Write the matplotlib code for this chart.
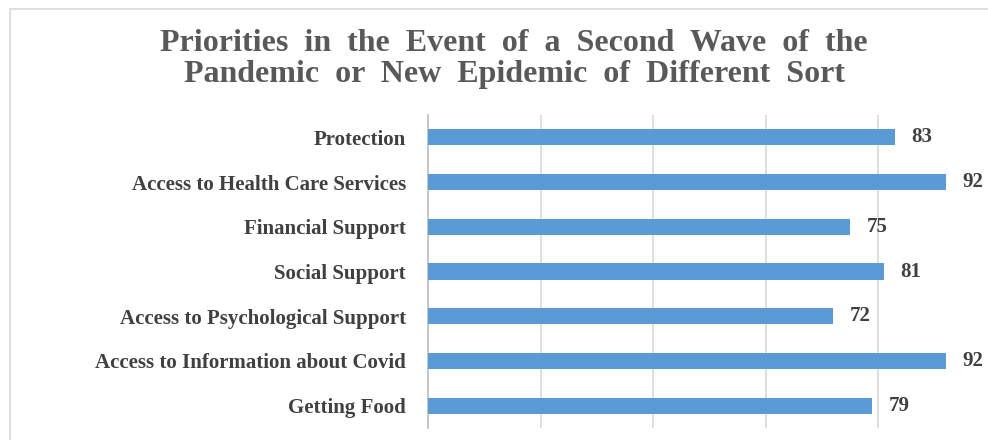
import matplotlib

matplotlib.use("Agg")
import matplotlib.pyplot as plt
from matplotlib.patches import Rectangle

categories = [
    "Protection",
    "Access to Health Care Services",
    "Financial Support",
    "Social Support",
    "Access to Psychological Support",
    "Access to Information about Covid",
    "Getting Food",
]
values = [83, 92, 75, 81, 72, 92, 79]
x_ticks = [0, 20, 40, 60, 80, 100]

title_lines = [
    "Priorities in the Event of a Second Wave of the",
    "Pandemic or New Epidemic of Different Sort",
]

BAR_COLOR = "#5B9BD5"
GRID_COLOR = "#D9D9D9"
TEXT_COLOR = "#404040"
SERIF = ["Liberation Serif", "DejaVu Serif"]

fig = plt.figure(figsize=(9.88, 4.4), dpi=100)

# light chart-area border (cropped on the right and bottom)
fig.patches.append(
    Rectangle((10 / 988, -0.1), 1.2, 1.1 - 9 / 440, transform=fig.transFigure,
              fill=False, edgecolor="#D9D9D9", linewidth=1.2)
)

ax = fig.add_axes([428 / 988, 12 / 440, 562.5 / 988, 313 / 440])

y_pos = list(range(len(categories)))
ax.barh(y_pos, values, height=0.36, color=BAR_COLOR, zorder=3)
ax.set_xlim(0, 100)
ax.set_ylim(len(categories) - 0.5, -0.5)
ax.set_xticks(x_ticks)
ax.set_xticklabels([])
ax.tick_params(axis="x", length=0)
ax.tick_params(axis="y", length=0, pad=16)
ax.set_yticks(y_pos)
ax.set_yticklabels(categories, fontsize=15, fontweight="bold",
                   family=SERIF, color=TEXT_COLOR)
ax.grid(axis="x", color=GRID_COLOR, linewidth=1.2, zorder=0)
for side in ["top", "right", "bottom"]:
    ax.spines[side].set_visible(False)
ax.spines["left"].set_color("#BFBFBF")
ax.spines["left"].set_linewidth(1.2)

for y, v in zip(y_pos, values):
    ax.text(v + 3.0, y, str(v), va="center", ha="left", fontsize=15,
            fontweight="bold", family=SERIF, color=TEXT_COLOR, zorder=4)

# wider word spacing as in the original title
title = "\n".join("  ".join(line.split(" ")) for line in title_lines)
fig.text(514 / 988, 1 - 59 / 440, title, ha="center", va="center",
         fontsize=23, fontweight="bold", family=SERIF, color="#595959",
         linespacing=1.13)

fig.savefig("out.png", dpi=100, facecolor="white")
